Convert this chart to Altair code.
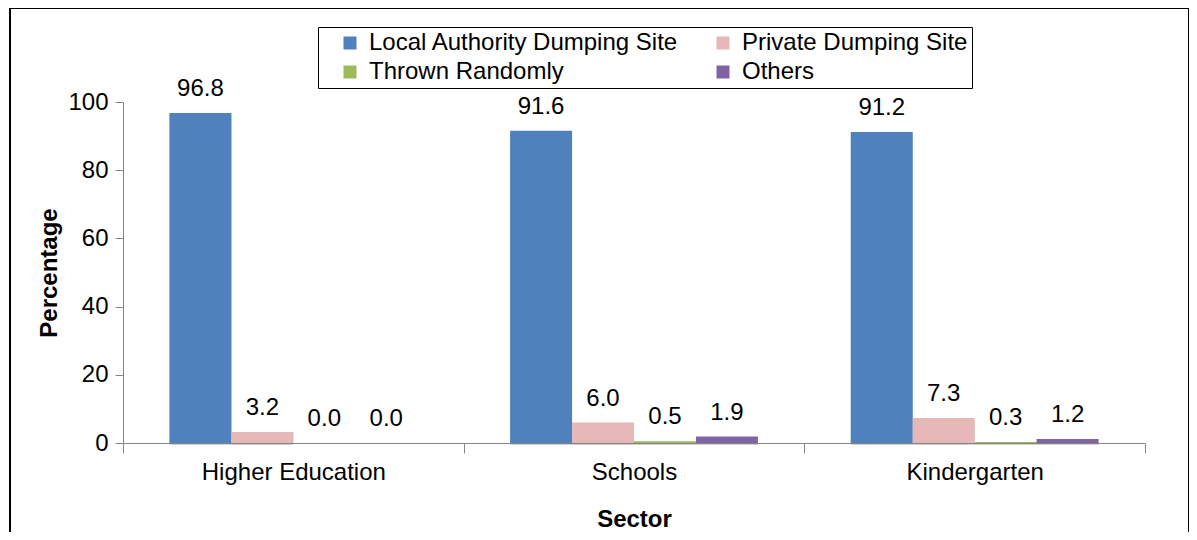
import altair as alt
import pandas as pd

sectors = ["Higher Education", "Schools", "Kindergarten"]
methods = ["Local Authority Dumping Site", "Private Dumping Site", "Thrown Randomly", "Others"]
local_authority = [96.8, 91.6, 91.2]
private_site = [3.2, 6.0, 7.3]
thrown_randomly = [0.0, 0.5, 0.3]
others = [0.0, 1.9, 1.2]
colors = ["#4F81BD", "#E6B9B8", "#9BBB59", "#8064A2"]

rows = []
for i, s in enumerate(sectors):
    for m, vals in zip(methods, [local_authority, private_site, thrown_randomly, others]):
        rows.append({"Sector": s, "Method": m, "Percentage": vals[i]})
df = pd.DataFrame(rows)

W, H = 1022, 341
FONT = "Liberation Sans"
FS = 24

x_enc = alt.X("Sector:N", sort=sectors, title="Sector",
              scale=alt.Scale(paddingInner=0, paddingOuter=0),
              axis=alt.Axis(labelAngle=0, tickBand="extent", labelFontSize=FS,
                            labelFont=FONT, labelColor="#000", titleFontSize=FS,
                            titleFont=FONT, titleFontWeight="bold", titleColor="#000",
                            titlePadding=23, labelPadding=7, tickSize=10, labelLimit=400,
                            domainColor="#868686", tickColor="#868686", grid=False))
xo = alt.XOffset("Method:N", sort=methods, scale=alt.Scale(paddingInner=0, paddingOuter=0.75))
y_enc = alt.Y("Percentage:Q", scale=alt.Scale(domain=[0, 100]), title="Percentage",
              axis=alt.Axis(values=[0, 20, 40, 60, 80, 100], labelFontSize=FS, labelFont=FONT,
                            labelColor="#000", titleFontSize=FS, titleFont=FONT,
                            titleFontWeight="bold", titleColor="#000", titlePadding=6,
                            tickSize=8, labelPadding=7, domainColor="#868686",
                            tickColor="#868686", grid=False))

base = alt.Chart(df)

shadow = base.mark_bar(color="#7f7f7f", opacity=0.35, xOffset=-3, yOffset=2).encode(
    x=x_enc, xOffset=xo, y=y_enc)

bars = base.mark_bar().encode(
    x=x_enc, xOffset=xo, y=y_enc,
    color=alt.Color("Method:N", sort=methods,
                    scale=alt.Scale(domain=methods, range=colors),
                    legend=alt.Legend(title=None, orient="none", legendX=195, legendY=-75,
                                      columns=2, columnPadding=16, rowPadding=5,
                                      symbolType="square", symbolSize=169,
                                      symbolStrokeWidth=0, symbolOffset=16, labelOffset=7,
                                      labelFontSize=FS, labelFont=FONT, labelColor="#000",
                                      strokeColor="#000", padding=4, labelLimit=500,
                                      direction="horizontal")))

labels = base.mark_text(fontSize=FS, font=FONT, baseline="middle", dy=-24, color="#000").encode(
    x=x_enc, xOffset=xo, y=y_enc, text=alt.Text("Percentage:Q", format=".1f"))

frame_df = pd.DataFrame({"k": [0]})
frame = alt.Chart(frame_df).mark_rect(fill=None, stroke="#000", strokeWidth=2, clip=False).encode(
    x=alt.value(-113), x2=alt.value(1066), y=alt.value(-94), y2=alt.value(520))

chart = alt.layer(frame, shadow, bars, labels).properties(
    width=W, height=H,
    background="white",
    autosize=alt.AutoSizeParams(type="none"),
    padding={"left": 115, "top": 94, "right": 44, "bottom": 89},
).configure_view(stroke=None)

chart.save("out.html", embed_options={"renderer": "svg", "actions": False})
